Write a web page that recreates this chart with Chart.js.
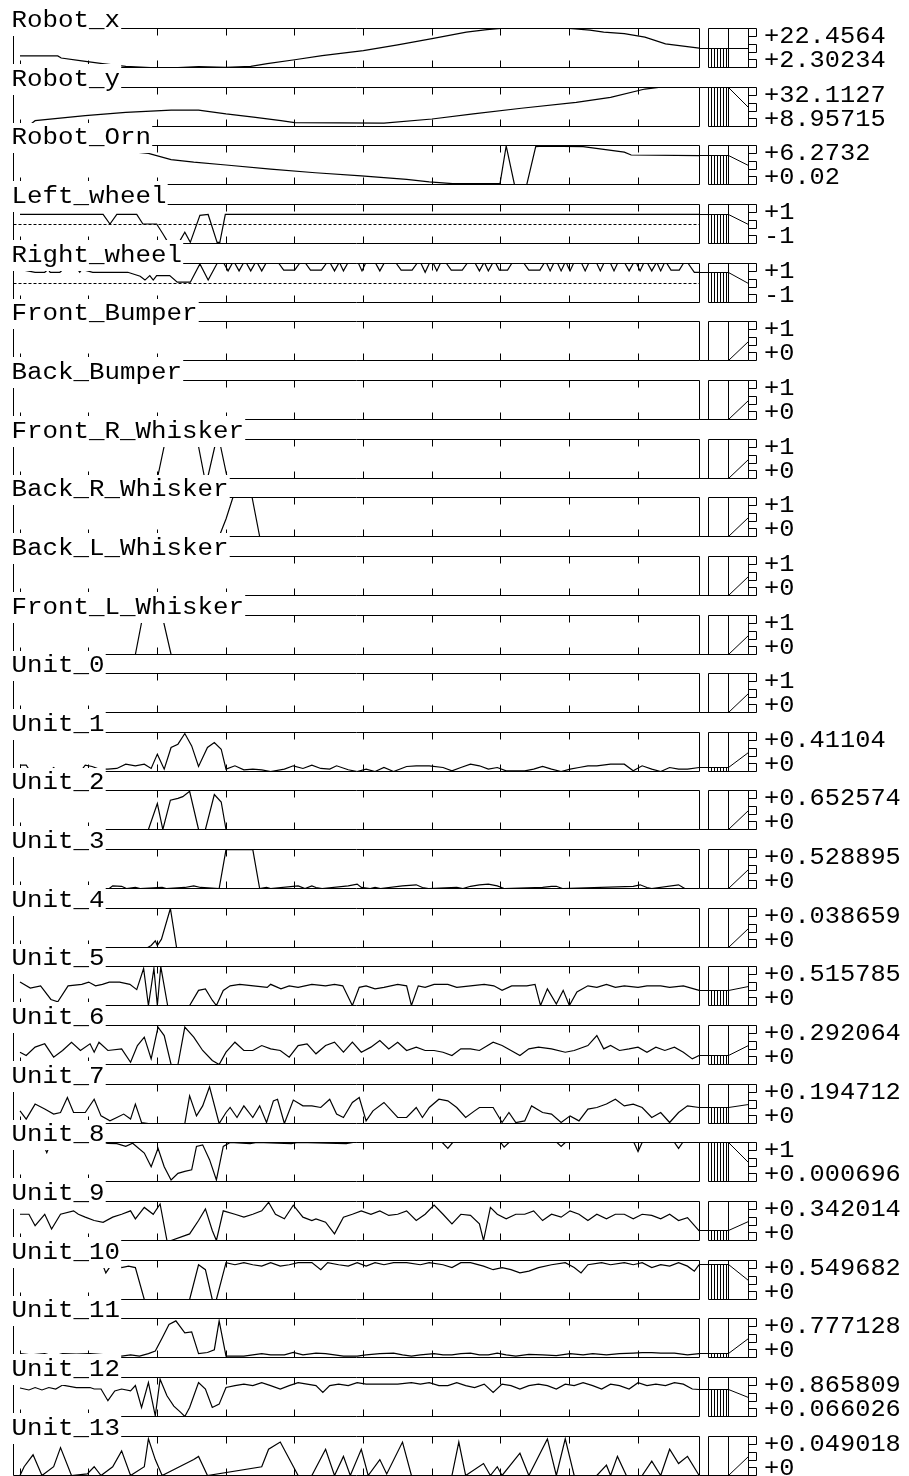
<!DOCTYPE html>
<html>
<head>
<meta charset="utf-8">
<script src="https://cdn.jsdelivr.net/npm/chart.js@4.4.0/dist/chart.umd.min.js"></script>
<style>
  html, body { margin: 0; padding: 0; background: #fff; }
  #wrap { position: relative; width: 909px; height: 1476px; overflow: hidden; background: #fff; }
  #wrap canvas { position: absolute; left: 0; }
</style>
</head>
<body>
<div id="wrap"></div>
<script>
// ---- data: one strip per signal, points are [sample, value] ----
const rowNames = ['Robot_x', 'Robot_y', 'Robot_Orn', 'Left_wheel', 'Right_wheel', 'Front_Bumper',
  'Back_Bumper', 'Front_R_Whisker', 'Back_R_Whisker', 'Back_L_Whisker', 'Front_L_Whisker',
  'Unit_0', 'Unit_1', 'Unit_2', 'Unit_3', 'Unit_4', 'Unit_5', 'Unit_6', 'Unit_7', 'Unit_8',
  'Unit_9', 'Unit_10', 'Unit_11', 'Unit_12', 'Unit_13'];
const rangeMin = [2.30234, 8.95715, 0.02, -1, -1, 0, 0, 0, 0, 0, 0, 0, 0, 0, 0, 0, 0, 0, 0,
  0.000696, 0, 0, 0, 0.066026, 0];
const rangeMax = [22.4564, 32.1127, 6.2732, 1, 1, 1, 1, 1, 1, 1, 1, 1, 0.41104, 0.652574,
  0.528895, 0.038659, 0.515785, 0.292064, 0.194712, 1, 0.342014, 0.549682, 0.777128, 0.865809, 0.049018];
const maxLabels = ['+22.4564', '+32.1127', '+6.2732', '+1', '+1', '+1', '+1', '+1', '+1', '+1', '+1',
  '+1', '+0.41104', '+0.652574', '+0.528895', '+0.038659', '+0.515785', '+0.292064', '+0.194712',
  '+1', '+0.342014', '+0.549682', '+0.777128', '+0.865809', '+0.049018'];
const minLabels = ['+2.30234', '+8.95715', '+0.02', '-1', '-1', '+0', '+0', '+0', '+0', '+0', '+0',
  '+0', '+0', '+0', '+0', '+0', '+0', '+0', '+0', '+0.000696', '+0', '+0', '+0', '+0.066026', '+0'];
const tickSamples = [0, 10, 20, 30, 40, 50, 60, 70, 80, 90];

const robotX = [[0,8.35],[5.5,8.3],[6,7.2],[9,5.7],[12,4.3],[15.4,2.9],[19,2.3],[23,2.3],[26,2.8],[30,2.4],
  [33.6,2.9],[36,4.3],[40,6.3],[44,8.4],[50,11.0],[55,14.0],[60,17.2],[65,20.6],[68,21.9],[70,22.4564],
  [80,22.4564],[83,21.6],[85,20.6],[88,19.8],[91,18.0],[94,14.5],[98.9,12.3]];
const robotY = [[0,10.0],[1.5,10.2],[2.2,12.4],[9.5,15.4],[15.4,17.3],[22,18.7],[26,18.7],[30,16.4],[34,14.5],
  [38,12.4],[40,11.3],[53,11.0],[60,13.4],[66,16.4],[73,19.8],[81,23.3],[86,26.3],[91,31.2],[93,32.1127],[98.9,32.1127]];
const robotOrn = [[0,6.2],[10,6.0],[18.7,5.0],[22,4.0],[25.3,3.6],[30,3.15],[36.5,2.5],[43,1.9],[49.7,1.4],
  [56.3,0.85],[59.6,0.45],[63,0.15],[69.9,0.15],[70.8,6.2],[72,0.02],[73.8,0.02],[75.1,6.1],[76.1,6.15],
  [82,6.1],[88,5.2],[89,4.75],[98.9,4.65]];
const leftWheel = [[0,0.49],[12.1,0.49],[13.1,0.0],[14.1,0.49],[17,0.49],[17.9,0.0],[19.9,0.0],[20.8,-0.5],
  [21.4,-0.85],[23.3,-0.85],[24,-0.42],[24.8,-0.94],[26.2,0.44],[27.4,0.49],[28.7,-0.94],[29.1,-0.94],
  [29.9,0.49],[98.9,0.49]];
const rightWheel = [[0,0.7],[2.2,0.55],[3.6,0.55],[4.1,0.7],[4.4,0.55],[5.8,0.55],[6.3,0.7],[8.4,0.7],
  [8.7,0.55],[9,0.7],[10.6,0.55],[15.7,0.55],[17.5,0.35],[18.2,0.15],[18.9,0.38],[19.4,0.15],[19.9,0.38],
  [21.8,0.38],[22.9,0.04],[24.8,0.04],[26.2,0.98],[27.4,0.15],[28.7,1],
  [29.7,1],[30.3,0.62],[30.9,1],[31.3,1],[31.9,0.62],[32.5,1],[33,1],[33.6,0.62],[34.2,1],[34.6,1],[35.2,0.62],
  [35.8,1],[37.7,1],[38.4,0.66],[40,0.66],[40.7,1],[41.6,1],[42.3,0.66],[43.9,0.66],[44.6,1],[45.2,1],
  [45.8,0.62],[46.4,1],[46.6,1],[47.1,0.62],[47.7,1],[49.3,1],[49.8,0.62],[50.3,1],[51.8,1],[52.4,0.62],
  [53,1],[54.8,1],[55.5,0.66],[57.1,0.66],[57.8,1],[58.4,1],[59,0.55],[59.6,1],[60.2,1],[60.7,0.62],[61.2,1],
  [62.1,1],[62.8,0.66],[64.4,0.66],[65.1,1],[66.3,1],
  [66.9,0.62],[67.5,1],[67.7,1],[68.2,0.62],[68.8,1],[69.3,1],[69.8,0.66],[71,0.66],[71.6,1],[73.4,1],
  [74.1,0.66],[75.7,0.66],[76.3,1],[76.7,1],[77.2,0.62],[77.7,1],[78.3,1],[78.8,0.62],[79.3,1],[79.6,1],
  [80.1,0.62],[80.6,1],[81.8,1],[82.3,0.62],[82.8,1],[84,1],[84.5,0.62],[85,1],[86,1],[86.5,0.62],[87,1],
  [88.1,1],[88.7,0.62],[89.3,1],[89.8,1],[90.3,0.62],[90.8,1],[91.4,1],[92,0.62],[92.6,1],[92.8,1],[93.3,0.62],
  [93.8,1],[94.2,1],[94.8,0.66],[96,0.66],[96.6,1],[97.3,1],[98.2,0.55],[98.9,0.55]];
const frontBumper = [[0,0],[98.9,0]];
const backBumper = [[0,0],[98.9,0]];
const frontRWhisker = [[0,0],[20,0],[21.2,1],[25.8,1],[26.9,0],[27.3,0],[28.6,1],[29,1],[30.2,0],[98.9,0]];
const backRWhisker = [[0,0],[29,0],[30,0.45],[31,1],[33.8,1],[34.9,0],[98.9,0]];
const backLWhisker = [[0,0],[98.9,0]];
const frontLWhisker = [[0,0],[16.8,0],[17.9,1],[20.7,1],[22,0],[98.9,0]];
const unit0 = [[0,0],[98.9,0]];
const unit1 = [[0,0.067],[0.9,0.067],[1.5,0],[4.3,0],[4.9,0.042],[5.5,0],[8.8,0],[9.5,0.067],[10.5,0.053],
  [11.5,0.025],[12.8,0.025],[14.1,0.032],[15.4,0.077],[16.8,0.06],[18.1,0.077],[19.1,0.032],[20,0.183],
  [21,0.025],[22,0.253],[23,0.288],[24,0.40],[25,0.27],[26,0.053],[27.3,0.253],[28.3,0.305],[29.3,0.235],
  [30,0.025],[31.3,0.06],[32.6,0.018],[33.9,0.025],[35.2,0.018],[36.5,0],[38.5,0.025],[39.8,0.06],
  [41.2,0.032],[42.5,0.067],[43.8,0.032],[45.1,0.025],[46.1,0.06],[47.8,0.018],[49.1,0],[50.4,0.025],
  [51.7,0],[53,0.042],[54.4,0],[56.3,0.053],[57.7,0.06],[59.6,0.06],[61.6,0.042],[62.9,0.007],[64.2,0.042],
  [65.6,0.077],[66.9,0.06],[68.2,0.025],[69.5,0.042],[70.8,0.007],[73.5,0.007],[74.8,0.025],[76.1,0.053],
  [77.4,0.025],[78.8,0],[80.1,0.025],[81.4,0.042],[82.7,0.06],[84,0.06],[86,0.077],[88,0.077],[89.3,0.007],
  [90.6,0.06],[92,0.025],[93.3,0],[94.6,0.042],[95.9,0.025],[97.2,0.025],[98.9,0.042]];
const unit2 = [[0,0],[18.7,0],[20,0.435],[20.8,0],[21.9,0.49],[23,0.52],[23.7,0.55],[24.7,0.64],[26,0],
  [27,0],[28.3,0.585],[29.3,0.46],[30,0],[98.9,0]];
const unit3 = [[0,0],[13,0],[13.5,0.036],[14.8,0.03],[15.5,0],[16.8,0.014],[17.5,0],[20.7,0.014],[21.3,0],
  [24,0.014],[25.3,0.036],[26.3,0.014],[29,0],[30,0.528],[33.9,0.528],[34.9,0],[35.9,0.014],[36.5,0],
  [40.5,0.036],[41.5,0],[42.5,0.036],[43.1,0.014],[44,0],[47.8,0.036],[49.1,0.059],[49.7,0.014],[51,0],
  [51.7,0.014],[52.5,0],[55.7,0.036],[57.7,0.05],[58.6,0.014],[59.5,0],[63.6,0.014],[64.5,0],[65.6,0.03],
  [66.9,0.05],[68.2,0.059],[69.5,0.036],[70.5,0],[76.1,0.014],[77.4,0.03],[78.1,0.03],[79,0],[89.3,0.03],
  [90.3,0.05],[91.3,0.014],[92,0],[95.9,0.05],[96.8,0],[98.9,0]];
const unit4 = [[0,0],[18.6,0],[19.1,0.002],[19.7,0.0066],[20,0.002],[20.6,0.0083],[21.9,0.0387],[22.8,0],[98.9,0]];
const unit5 = [[0,0.31],[1.5,0.23],[3,0.26],[4.5,0.08],[5.5,0.05],[7,0.26],[9,0.28],[10,0.31],[11,0.26],
  [12,0.28],[13,0.31],[14.5,0.31],[16,0.28],[17,0.21],[18,0.49],[18.7,0],[19.5,0.49],[20,0],[20.5,0.515],
  [21.5,0],[24.7,0],[26,0.2],[27,0.22],[28,0.07],[28.6,0],[29.6,0.2],[30.6,0.26],[32,0.28],[34,0.26],
  [36,0.24],[36.5,0.28],[38,0.22],[39.2,0.26],[40.5,0.24],[42.5,0.28],[44.5,0.26],[45.8,0.28],[47,0.26],
  [48.4,0],[49.4,0.24],[50.4,0.26],[51.7,0.22],[53,0.24],[55,0.28],[56.3,0.26],[57,0],[58,0.26],[59,0.24],
  [60.3,0.28],[62.3,0.28],[63.6,0.24],[65.6,0.26],[67.6,0.28],[69,0.26],[70.2,0.2],[71.6,0.26],[73.8,0.26],
  [75,0.28],[75.8,0],[76.8,0.22],[78.1,0.02],[79.1,0.2],[80,0],[81.1,0.18],[82.7,0.26],[84,0.24],[85.4,0.28],
  [86.7,0.24],[88,0.26],[90,0.24],[91.3,0.26],[93.3,0.26],[94.6,0.24],[96.6,0.26],[98.9,0.2]];
const unit6 = [[0,0.092],[0.9,0.067],[2.2,0.13],[3.6,0.155],[4.9,0.055],[6.2,0.105],[7.5,0.167],[8.8,0.105],
  [10.2,0.155],[10.8,0.092],[11.5,0.167],[12.8,0.105],[14.8,0.117],[16.1,0.017],[17.1,0.142],[18.1,0.205],
  [19.1,0.042],[20.1,0.28],[21,0.217],[22,0],[23,0],[24,0.28],[25.3,0.205],[26.6,0.105],[28,0.03],[29,0],
  [30,0.092],[31.3,0.167],[32.6,0.105],[33.9,0.105],[35.2,0.142],[36.5,0.117],[37.9,0.105],[39.2,0.055],
  [40.5,0.142],[41.8,0.155],[43.1,0.08],[44.5,0.142],[45.8,0.167],[47.1,0.092],[48.4,0.167],[49.7,0.092],
  [51.1,0.13],[52.4,0.18],[53.7,0.117],[55,0.167],[56.3,0.105],[57.7,0.13],[59,0.105],[60.3,0.105],
  [61.6,0.092],[62.9,0.067],[64.2,0.117],[65.6,0.117],[66.9,0.105],[68.9,0.167],[70.2,0.142],[71.5,0.105],
  [72.8,0.067],[74.1,0.117],[75.5,0.13],[77.4,0.117],[79.4,0.092],[80.7,0.105],[82.7,0.142],[84,0.217],
  [85,0.117],[86,0.142],[87.3,0.105],[88.7,0.117],[90,0.13],[91.3,0.092],[92.6,0.13],[93.9,0.105],
  [95.3,0.13],[96.6,0.092],[97.9,0.042],[98.9,0.067]];
const unit7 = [[0,0.063],[0.9,0.022],[2.2,0.097],[3.6,0.072],[4.9,0.047],[5.9,0.055],[6.9,0.13],[7.8,0.055],
  [9.5,0.055],[10.8,0.121],[11.8,0.038],[13.1,0.013],[14.1,0.03],[15.1,0.047],[16.1,0.022],[16.8,0.097],
  [17.7,0.005],[18.7,0],[24,0],[24.7,0.138],[25.7,0.038],[26.6,0.088],[27.6,0.183],[29,0],[30,0.055],
  [30.6,0.08],[31.6,0.03],[32.6,0.088],[33.9,0.03],[34.9,0.088],[35.9,0.005],[36.9,0.113],[37.5,0.121],
  [38.5,0],[39.8,0.117],[41.2,0.088],[42.5,0.088],[43.8,0.08],[45.1,0.121],[46.1,0.047],[47.1,0.03],
  [48.4,0.105],[49.4,0.13],[50.4,0.013],[51.4,0.063],[53,0.105],[55,0.03],[56.3,0.03],[57.7,0.08],
  [58.6,0.03],[59.6,0.08],[61,0.121],[62.3,0.113],[63.6,0.08],[64.9,0.03],[66.2,0.063],[66.9,0.08],
  [68.9,0.08],[70.2,0.005],[71.2,0.055],[72.2,0.005],[73.5,0.013],[74.5,0.088],[76.1,0.055],[77.4,0.047],
  [78.8,0.005],[80.1,0.038],[81.4,0.013],[82.7,0.072],[84,0.08],[85.4,0.097],[86.7,0.121],[88,0.088],
  [89.3,0.097],[90.6,0.08],[92,0.03],[93.3,0.055],[94.6,0.005],[95.9,0.055],[97.2,0.088],[98.9,0.08]];
const unit8 = [[0,1],[3.3,1],[3.9,0.74],[4.5,1],[12,1],[12.8,0.98],[14.1,0.97],[15.4,0.9],[16.4,0.98],
  [18.1,0.73],[19.1,0.38],[20.1,0.85],[21,0.38],[22,0.04],[23,0.21],[24,0.26],[25,0.30],[25.7,0.9],
  [26.6,0.94],[27.6,0.56],[28.6,0.04],[29.6,0.9],[30.6,1],[33.5,0.97],[34.5,1],[39.5,0.97],[40.5,1],
  [47.5,0.97],[48.5,1],[61.5,1],[62.3,0.85],[63,1],[70,1],[70.5,0.88],[71.2,1],[78.2,1],[78.8,0.9],
  [79.4,1],[89.4,1],[90,0.77],[90.6,1],[95.3,1],[95.9,0.85],[96.5,1],[98.9,1]];
const unit9 = [[0,0.23],[1.3,0.23],[2.2,0.13],[3.6,0.23],[4.6,0.10],[5.9,0.23],[7.8,0.26],[8.5,0.23],
  [9.5,0.205],[10.8,0.175],[12.1,0.16],[13.5,0.205],[14.8,0.23],[16.1,0.26],[16.8,0.19],[18.1,0.29],
  [19.4,0.23],[20.4,0.32],[21.4,0],[22,0],[24.7,0.058],[26,0.175],[27,0.277],[28,0.088],[28.6,0],
  [29.6,0.26],[31.3,0.23],[32.6,0.205],[33.9,0.23],[35.2,0.26],[36.2,0.335],[37.2,0.23],[38.5,0.19],
  [39.8,0.31],[41.2,0.205],[42.5,0.175],[43.1,0.19],[44.5,0.16],[45.8,0.058],[47.1,0.205],[48.4,0.23],
  [49.7,0.26],[51.1,0.23],[52.4,0.26],[53.7,0.22],[55,0.23],[56.3,0.26],[57.7,0.175],[59,0.23],[60.3,0.31],
  [61.6,0.23],[62.9,0.146],[64.2,0.23],[65.6,0.22],[66.9,0.146],[67.5,0],[68.5,0.29],[69.5,0.23],
  [70.8,0.19],[72.2,0.23],[73.5,0.23],[74.8,0.26],[76.1,0.175],[77.4,0.23],[78.8,0.205],[80.1,0.26],
  [81.4,0.23],[82.7,0.175],[84,0.23],[85.4,0.19],[86.7,0.23],[88,0.23],[89.3,0.19],[90.6,0.23],[92,0.22],
  [93.3,0.19],[94.6,0.23],[95.9,0.175],[97.2,0.2],[98.9,0.085]];
const unit10 = [[0,0.5],[12,0.5],[12.5,0.375],[13.5,0.52],[14.8,0.45],[15.8,0.47],[16.8,0.45],[18.1,0],
  [24.7,0],[26,0.49],[27,0.42],[28,0],[28.6,0],[30,0.52],[31.3,0.49],[32.6,0.52],[33.9,0.49],[35.2,0.47],
  [36.5,0.52],[37.9,0.47],[39.2,0.49],[40.5,0.52],[42.5,0.52],[43.8,0.42],[44.8,0.52],[46.4,0.49],
  [47.8,0.47],[49.1,0.52],[50.4,0.47],[51.7,0.52],[53,0.49],[54.4,0.52],[56.3,0.52],[58.3,0.49],[59.6,0.52],
  [61.6,0.49],[62.9,0.45],[64.2,0.52],[65.6,0.52],[67.5,0.47],[68.9,0.42],[70.2,0.45],[71.5,0.42],
  [72.8,0.375],[74.1,0.40],[75.5,0.45],[77.4,0.49],[79.4,0.52],[80.7,0.45],[81.7,0.375],[82.7,0.49],
  [84.7,0.52],[86,0.49],[88,0.52],[89.3,0.49],[90.6,0.52],[92,0.45],[93.3,0.49],[94.6,0.47],[95.9,0.52],
  [97.2,0.47],[98.2,0.40],[98.9,0.49]];
const unit11 = [[0,0.078],[1.6,0.051],[3.6,0.078],[4.9,0.026],[6.2,0.078],[8.2,0.067],[10.2,0.078],
  [12.1,0.057],[13.5,0.051],[14.8,0.026],[16.1,0.051],[17.4,0.026],[18.7,0.078],[19.7,0.13],[20.7,0.39],
  [21.7,0.66],[22.7,0.73],[24,0.49],[25,0.51],[26,0.078],[27.3,0.1],[28.3,0.155],[29,0.73],[30,0.026],
  [31.3,0.026],[32.6,0.026],[33.9,0.051],[35.2,0.078],[36.5,0.051],[38.5,0.051],[39.8,0.1],[41.2,0.051],
  [43.1,0.088],[44.5,0.078],[45.8,0.051],[47.1,0.026],[49.1,0.026],[50.4,0.051],[52.4,0.078],[54.4,0.088],
  [55.7,0.051],[57,0.026],[58.3,0.051],[60.3,0.078],[61.6,0.051],[62.9,0.051],[64.2,0.078],[65.6,0.088],
  [66.9,0.051],[68.2,0.051],[69.5,0.088],[70.8,0.051],[72.2,0.026],[74.1,0.062],[76.1,0.051],[78.1,0.036],
  [80.1,0.078],[82,0.051],[83.4,0.078],[85.4,0.051],[87.3,0.078],[89.3,0.088],[90.6,0.098],[92,0.098],
  [93.3,0.088],[95.3,0.088],[97.2,0.051],[98.9,0.078]];
const unit12 = [[0,0.65],[1.3,0.61],[2.2,0.66],[3.2,0.61],[4.2,0.66],[5.2,0.63],[6.2,0.71],[8.2,0.66],
  [10.2,0.66],[10.8,0.63],[11.8,0.63],[12.8,0.39],[13.8,0.59],[14.8,0.63],[16.1,0.59],[16.8,0.70],
  [17.7,0.25],[18.7,0.76],[19.7,0.08],[20.4,0.83],[21.4,0.49],[22.4,0.28],[23.4,0.15],[24,0.066],
  [24.7,0.25],[26,0.76],[27,0.63],[28,0.25],[29,0.32],[30,0.66],[31.3,0.70],[32.6,0.73],[33.9,0.70],
  [35.2,0.76],[36.5,0.70],[37.9,0.63],[39.2,0.70],[40.5,0.76],[41.8,0.73],[43.1,0.70],[44.1,0.56],
  [45.1,0.70],[46.4,0.73],[47.8,0.70],[49.1,0.76],[50.4,0.73],[53,0.73],[55,0.73],[57,0.76],[58.3,0.73],
  [59.6,0.76],[61,0.70],[62.3,0.70],[63.6,0.76],[64.9,0.70],[66.2,0.66],[67.6,0.73],[68.9,0.56],[70.2,0.73],
  [71.5,0.70],[72.8,0.63],[74.1,0.70],[75.5,0.73],[76.8,0.70],[78.1,0.63],[79.4,0.73],[80.7,0.70],
  [82,0.76],[83.4,0.70],[84.7,0.63],[86,0.73],[87.3,0.70],[88.7,0.63],[90,0.76],[91.3,0.70],[92.6,0.73],
  [94,0.70],[95.3,0.76],[96.6,0.73],[97.9,0.63],[98.9,0.62]];
const unit13 = [[0,0],[0.6,0.011],[1.9,0.026],[3.2,0],[4.9,0.011],[5.9,0.035],[7.5,0],[9.8,0.002],
  [10.8,0.011],[11.8,0],[13.5,0.011],[14.8,0.031],[16.1,0],[18.1,0.011],[18.7,0.046],[19.7,0.02],[20.7,0],
  [25.3,0.02],[26,0.024],[27.3,0],[35.2,0.011],[36.2,0.033],[37.9,0.042],[40.5,0],[42.5,0],[44.5,0.033],
  [45.8,0],[47.1,0.024],[48.1,0],[49.7,0.033],[50.7,0],[52.4,0.02],[53.4,0.002],[55.7,0.042],[57,0],
  [62.9,0],[63.9,0.042],[64.9,0],[67.5,0.015],[68.5,0],[69.5,0.011],[70.2,0],[72.8,0.028],[74.1,0],
  [76.8,0.046],[78.1,0],[79.4,0.046],[80.7,0],[84,0],[85.4,0.013],[86,0],[87,0.024],[88.3,0],[90.6,0],
  [92,0.018],[93.3,0],[94.6,0.033],[95.9,0.015],[97.2,0.024],[98.9,0]];

const series = [robotX, robotY, robotOrn, leftWheel, rightWheel, frontBumper, backBumper, frontRWhisker,
  backRWhisker, backLWhisker, frontLWhisker, unit0, unit1, unit2, unit3, unit4, unit5, unit6, unit7,
  unit8, unit9, unit10, unit11, unit12, unit13];
const dottedZero = [false, false, false, true, true];

// ---- layout ----
const HEAD = 24, CANVAS_H = 67, BOX_H = 39;
const FONT = '23px "Liberation Mono", "DejaVu Sans Mono", monospace';
const rowTop = i => Math.round(28 + 58.65 * i);
const labelEnd = i => 12.7 + 15.5 * rowNames[i].length;

function wideText(ctx, text, x, y, perChar) {
  const w = ctx.measureText(text).width;
  ctx.save();
  ctx.translate(x, y);
  ctx.scale(perChar * text.length / w, 1);
  ctx.fillText(text, 0, 0);
  ctx.restore();
}

const stripPlugin = {
  id: 'strip',
  beforeDatasetsDraw(chart, args, opts) {
    const ctx = chart.ctx, a = chart.chartArea, xs = chart.scales.x, ys = chart.scales.y;
    ctx.save();
    ctx.strokeStyle = '#000';
    ctx.lineWidth = 1;
    ctx.beginPath();
    ctx.rect(a.left, a.top, a.right - a.left, a.bottom - a.top);
    tickSamples.forEach(t => {
      const x = Math.floor(xs.getPixelForValue(t)) + 0.5;
      ctx.moveTo(x, a.top); ctx.lineTo(x, a.top + 7);
      ctx.moveTo(x, a.bottom); ctx.lineTo(x, a.bottom - 7);
    });
    ctx.stroke();
    if (dottedZero[opts.row]) {
      const y = Math.floor(ys.getPixelForValue(0)) + 0.5;
      ctx.setLineDash([3, 2]);
      ctx.beginPath();
      ctx.moveTo(a.left, y); ctx.lineTo(a.right, y);
      ctx.stroke();
    }
    ctx.restore();
  },
  afterDraw(chart, args, opts) {
    const i = opts.row;
    const ctx = chart.ctx, a = chart.chartArea, ys = chart.scales.y;
    const pts = series[i];
    const last = pts[pts.length - 1][1];
    const T = a.top, B = a.bottom;
    const vy = Math.floor(ys.getPixelForValue(last)) + 0.5;
    const mid = Math.floor((T + B) / 2) + 0.5;
    const x0 = 708.5, x1 = 728.5, x2 = 748.5;
    ctx.save();
    ctx.strokeStyle = '#000';
    ctx.lineWidth = 1;
    // gauge at the right
    ctx.beginPath();
    ctx.rect(x0, T, x2 - x0, B - T);
    ctx.moveTo(x1, T); ctx.lineTo(x1, B);
    for (let x = 711.5; x < x1; x += 3) { ctx.moveTo(x, vy); ctx.lineTo(x, B); }
    ctx.moveTo(a.right, vy); ctx.lineTo(x1, vy); ctx.lineTo(x2, mid);
    ctx.rect(x2, T, 8, 8);
    ctx.rect(x2, mid - 4, 8, 8);
    ctx.rect(x2, B - 8, 8, 8);
    ctx.stroke();
    // range text
    ctx.fillStyle = '#000';
    ctx.font = FONT;
    ctx.textBaseline = 'alphabetic';
    wideText(ctx, maxLabels[i], 764, T + 14.5, 15.2);
    wideText(ctx, minLabels[i], 764, B - 0.5, 15.2);
    // name label, its white box hides what lies under it
    const prevB = i === 0 ? -100 : rowTop(i - 1) + BOX_H - (rowTop(i) - HEAD);
    const topY = Math.max(0, prevB - 3);
    ctx.fillStyle = '#fff';
    ctx.fillRect(0, topY, labelEnd(i), (HEAD + 8) - topY);
    ctx.fillStyle = '#000';
    wideText(ctx, rowNames[i], 11.5, HEAD - 1.5, 15.5);
    ctx.restore();
  }
};

const wrap = document.getElementById('wrap');
rowNames.forEach((name, i) => {
  const cv = document.createElement('canvas');
  cv.width = 909;
  cv.height = CANVAS_H;
  cv.style.top = (rowTop(i) - HEAD) + 'px';
  cv.style.width = '909px';
  cv.style.height = CANVAS_H + 'px';
  wrap.appendChild(cv);
  new Chart(cv, {
    type: 'line',
    data: {
      datasets: [{
        label: name,
        data: series[i].map(p => ({ x: p[0], y: p[1] })),
        borderColor: '#000',
        borderWidth: 1.2,
        pointRadius: 0,
        tension: 0,
        fill: false
      }]
    },
    options: {
      responsive: false,
      animation: false,
      devicePixelRatio: 1,
      events: [],
      layout: { padding: { left: 13.5, right: 209.5, top: HEAD + 0.5, bottom: CANVAS_H - HEAD - 0.5 - BOX_H } },
      scales: {
        x: { type: 'linear', min: -0.947, max: 98.95, display: false },
        y: { type: 'linear', min: rangeMin[i], max: rangeMax[i], display: false }
      },
      plugins: {
        legend: { display: false },
        tooltip: { enabled: false },
        strip: { row: i }
      }
    },
    plugins: [stripPlugin]
  });
});
</script>
</body>
</html>
